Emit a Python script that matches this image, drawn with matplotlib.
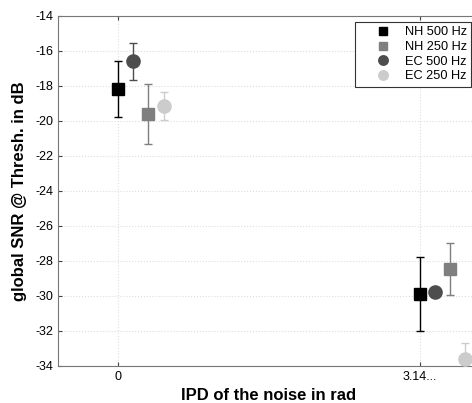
import numpy as np
import matplotlib
matplotlib.use("Agg")
import matplotlib.pyplot as plt
from matplotlib.lines import Line2D

plt.rcParams['font.family'] = ['Liberation Sans', 'DejaVu Sans']
plt.rcParams['axes.unicode_minus'] = False

# IPD conditions (rad) and labels
ipd = [0, np.pi]
ipd_labels = ['0', '3.14...']

# series: name, offset (fraction of pi), mean, error
names = ['NH 500 Hz', 'NH 250 Hz', 'EC 500 Hz', 'EC 250 Hz']
offsets = [0.0, 0.10, 0.05, 0.15]
nh500 = [-18.2, -29.9]
nh500_err = [1.6, 2.1]
nh250 = [-19.6, -28.45]
nh250_err = [1.7, 1.5]
ec500 = [-16.6, -29.8]
ec500_err = [1.05, 0.0]
ec250 = [-19.15, -33.6]
ec250_err = [0.8, 0.9]

means = [nh500, nh250, ec500, ec250]
errs = [nh500_err, nh250_err, ec500_err, ec250_err]
colors = ['#000000', '#7f7f7f', '#4d4d4d', '#cccccc']
markers = ['s', 's', 'o', 'o']
sizes = [8, 8, 9.5, 9.5]

fig = plt.figure(figsize=(4.72, 4.03), dpi=100)
ax = fig.add_axes([58 / 472, 1 - 366 / 403, (480 - 58) / 472, 350 / 403])

handles = []
for i in range(4):
    x = np.array(ipd) + offsets[i] * np.pi
    ax.errorbar(x, means[i], yerr=errs[i], fmt=markers[i], color=colors[i],
                ecolor=colors[i], mec=colors[i], ms=sizes[i], capsize=3,
                elinewidth=1, capthick=1, zorder=3)
    # legend proxies without the error bar lines
    handles.append(Line2D([], [], ls='none', marker=markers[i], color=colors[i],
                          ms=sizes[i] * 0.72, label=names[i]))

ax.set_xlim(-0.2 * np.pi, 1.2 * np.pi)
ax.set_ylim(-34, -14)
ax.set_xticks(ipd)
ax.set_xticklabels(ipd_labels)
ax.set_yticks(np.arange(-34, -13, 2))
ax.tick_params(direction='in', top=True, right=True, labelsize=9, length=3,
               color='#444444')
ax.grid(True, color='#dddddd', linestyle=':', linewidth=0.8)
for s in ax.spines.values():
    s.set_color('#777777')

ax.set_xlabel('IPD of the noise in rad', fontsize=12, fontweight='bold')
ax.set_ylabel('global SNR @ Thresh. in dB', fontsize=12, fontweight='bold',
              labelpad=6)

leg = ax.legend(handles=handles, loc='upper left', fontsize=9.2, fancybox=False,
                framealpha=1, edgecolor='#333333', borderpad=0.35,
                handlelength=3.7, handletextpad=-0.15, labelspacing=0.2,
                borderaxespad=0, bbox_to_anchor=(355 / 472, 1 - 22 / 403),
                bbox_transform=fig.transFigure)
leg.get_frame().set_linewidth(0.8)

fig.savefig('out.png', dpi=100)
